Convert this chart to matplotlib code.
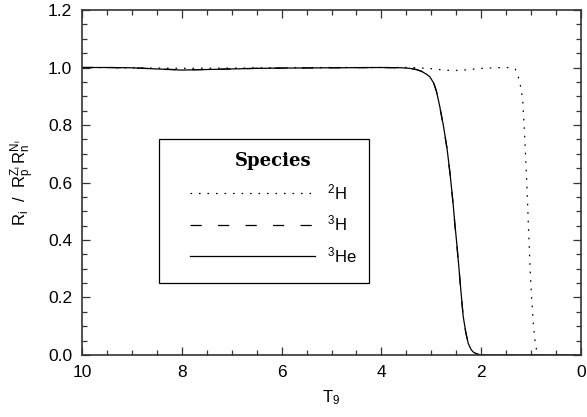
import matplotlib
matplotlib.use("Agg")
import matplotlib.pyplot as plt
from matplotlib.patches import Rectangle
from matplotlib.ticker import MultipleLocator

plt.rcParams['font.family'] = ['Liberation Sans', 'DejaVu Sans']
plt.rcParams['mathtext.fontset'] = 'custom'
plt.rcParams['mathtext.rm'] = 'Liberation Sans'
plt.rcParams['mathtext.it'] = 'Liberation Sans'

# temperature T9 (GK) and ratios
t9_he3 = [10.0, 9.5, 9.0, 8.5, 8.0, 7.5, 7.0, 6.5, 6.0, 5.0, 4.0, 3.6, 3.43, 3.3, 3.2, 3.1,
          3.03, 2.95, 2.9, 2.83, 2.76, 2.69, 2.63, 2.57, 2.53, 2.49, 2.45, 2.42, 2.39, 2.36,
          2.31, 2.26, 2.2, 2.15, 2.09, 2.03, 2.0, 1.5, 1.0, 0.5, 0.0]
r_he3 = [1.0, 1.0, 0.999, 0.995, 0.991, 0.993, 0.995, 0.997, 0.998, 0.999, 1.0, 0.999, 0.997, 0.993, 0.987, 0.977,
         0.968, 0.945, 0.92, 0.864, 0.80, 0.725, 0.64, 0.539, 0.46, 0.388, 0.31, 0.249, 0.19, 0.133,
         0.08, 0.04, 0.018, 0.009, 0.004, 0.001, 0.0, 0.0, 0.0, 0.0, 0.0]

t9_h3 = t9_he3
r_h3 = [1.0, 1.0, 0.999, 0.995, 0.992, 0.993, 0.995, 0.997, 0.998, 0.999, 1.0, 0.999, 0.997, 0.993, 0.987, 0.977,
        0.967, 0.944, 0.918, 0.862, 0.798, 0.722, 0.637, 0.536, 0.457, 0.386, 0.308, 0.248, 0.189, 0.132,
        0.079, 0.04, 0.018, 0.009, 0.004, 0.001, 0.0, 0.0, 0.0, 0.0, 0.0]

t9_h2 = [10.0, 9.0, 8.0, 7.0, 6.0, 5.0, 4.0, 3.37, 3.0, 2.8, 2.56, 2.3, 2.0, 1.75, 1.49, 1.4, 1.32,
         1.28, 1.24, 1.2, 1.17, 1.14, 1.11, 1.08, 1.05, 1.02, 0.99, 0.96, 0.93, 0.9, 0.87, 0.84,
         0.8, 0.5, 0.0]
r_h2 = [1.0, 0.999, 0.997, 0.998, 0.999, 1.0, 1.0, 1.0, 0.996, 0.992, 0.989, 0.992, 0.997, 0.999, 1.0, 0.999, 0.995,
        0.98, 0.957, 0.925, 0.887, 0.80, 0.69, 0.57, 0.43, 0.30, 0.20, 0.12, 0.06, 0.025, 0.008, 0.002,
        0.0, 0.0, 0.0]

fig = plt.figure(figsize=(5.87, 4.17), dpi=100)
ax = fig.add_axes([0.1397, 0.1487, 0.8501, 0.8273])

ax.plot(t9_h2, r_h2, color='black', lw=0.9, linestyle=(0, (1.3, 5.5)), label=r'$^{2}$H')
ax.plot(t9_h3, r_h3, color='black', lw=0.9, linestyle=(0, (9, 13)), label=r'$^{3}$H')
ax.plot(t9_he3, r_he3, color='black', lw=0.9, linestyle='-', label=r'$^{3}$He')

ax.set_xlim(10, 0)
ax.set_ylim(0, 1.2)
ax.xaxis.set_major_locator(MultipleLocator(2))
ax.xaxis.set_minor_locator(MultipleLocator(0.5))
ax.yaxis.set_major_locator(MultipleLocator(0.2))
ax.yaxis.set_minor_locator(MultipleLocator(0.05))
ax.xaxis.set_major_formatter(plt.FuncFormatter(lambda v, p: f'{v:.0f}'))
ax.yaxis.set_major_formatter(plt.FuncFormatter(lambda v, p: f'{v:.1f}'))
ax.tick_params(which='both', direction='in', top=True, right=True, labelsize=12.5, color='#333333')
ax.tick_params(which='major', length=6, width=0.9, pad=7)
ax.tick_params(which='minor', length=3.5, width=0.9)
for s in ax.spines.values():
    s.set_linewidth(1.2)
    s.set_color('#333333')

ax.set_xlabel(r'T$_9$', fontsize=12, labelpad=6)
ax.set_ylabel(r'R$_\mathrm{i}$  /  R$_\mathrm{p}^{\mathrm{Z_i}}$$\,$R$_\mathrm{n}^{\mathrm{N_i}}$',
              fontsize=12, labelpad=8)

# legend box
ax.add_patch(Rectangle((0.154, 0.209), 0.421, 0.417, transform=ax.transAxes,
                       fill=True, facecolor='white', edgecolor='black', lw=0.9, zorder=4))
leg = ax.legend(loc='upper left', bbox_to_anchor=(0.2164, 0.589), title='Species',
                fontsize=12, handlelength=7.5, handletextpad=0.7, labelspacing=0.7,
                borderpad=0, borderaxespad=0, frameon=False)
leg.set_zorder(5)
leg.get_title().set_fontfamily('DejaVu Serif')
leg.get_title().set_fontweight('bold')
leg.get_title().set_fontsize(13)
leg._legend_box.sep = 9

fig.savefig('out.png', dpi=100)
